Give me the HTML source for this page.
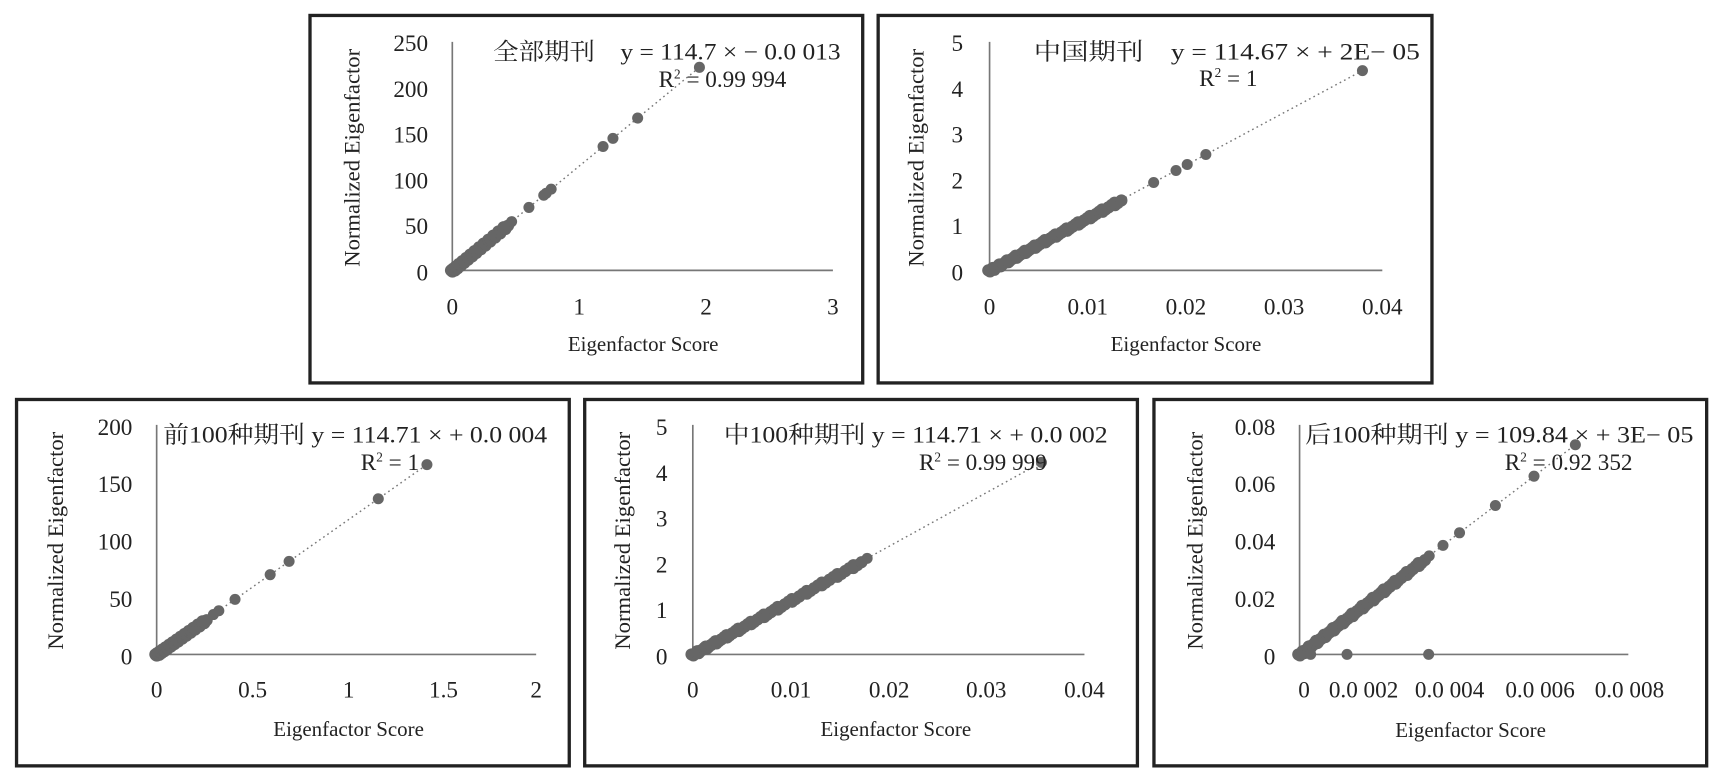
<!DOCTYPE html>
<html><head><meta charset="utf-8"><style>
html,body{margin:0;padding:0;background:#fff;}
svg{display:block;}
text{font-family:"Liberation Serif","Noto Serif CJK SC","Noto Sans CJK SC",serif;fill:#222;}
</style></head><body>
<svg id="s" width="1721" height="778" viewBox="0 0 1560 705" preserveAspectRatio="none" xmlns="http://www.w3.org/2000/svg">
<rect width="1560" height="705" fill="#fff"/>
<g fill="none" stroke="#222" stroke-width="3">
<rect x="281" y="14" width="501" height="333"/>
<rect x="796" y="14" width="502" height="333"/>
<rect x="15" y="362" width="501" height="332"/>
<rect x="530" y="362" width="501" height="332"/>
<rect x="1046" y="362" width="501" height="332"/>
</g>
<g stroke="#777" stroke-width="1.5">
<line x1="410" y1="38" x2="410" y2="245"/><line x1="410" y1="245" x2="755" y2="245"/>
<line x1="897" y1="38" x2="897" y2="245"/><line x1="897" y1="245" x2="1253" y2="245"/>
<line x1="142" y1="385" x2="142" y2="593"/><line x1="142" y1="593" x2="486" y2="593"/>
<line x1="628" y1="385" x2="628" y2="593"/><line x1="628" y1="593" x2="983" y2="593"/>
<line x1="1178" y1="385" x2="1178" y2="593"/><line x1="1178" y1="593" x2="1476" y2="593"/>
</g>
<g id="pts" fill="#666"></g>
<g font-size="21">
<!-- chart1 -->
<g text-anchor="end"><text x="388" y="46">250</text><text x="388" y="88">200</text><text x="388" y="129">150</text><text x="388" y="171">100</text><text x="388" y="212">50</text><text x="388" y="254">0</text></g>
<g text-anchor="middle"><text x="410" y="285">0</text><text x="525" y="285">1</text><text x="640" y="285">2</text><text x="755" y="285">3</text></g>
<text x="583" y="318" text-anchor="middle" font-size="19">Eigenfactor Score</text>
<text transform="translate(326,143) rotate(-90)" text-anchor="middle" font-size="20.5">Normalized Eigenfactor</text>
<text x="447" y="54" textLength="315" lengthAdjust="spacingAndGlyphs">全部期刊　y = 114.7 × − 0.0 013</text>
<text x="597" y="79">R<tspan font-size="12" dy="-8">2</tspan><tspan dy="8"> = 0.99 994</tspan></text>
<!-- chart2 -->
<g text-anchor="end"><text x="873" y="46">5</text><text x="873" y="88">4</text><text x="873" y="129">3</text><text x="873" y="171">2</text><text x="873" y="212">1</text><text x="873" y="254">0</text></g>
<g text-anchor="middle"><text x="897" y="285">0</text><text x="986" y="285">0.01</text><text x="1075" y="285">0.02</text><text x="1164" y="285">0.03</text><text x="1253" y="285">0.04</text></g>
<text x="1075" y="318" text-anchor="middle" font-size="19">Eigenfactor Score</text>
<text transform="translate(837,143) rotate(-90)" text-anchor="middle" font-size="20.5">Normalized Eigenfactor</text>
<text x="937" y="54" textLength="350" lengthAdjust="spacingAndGlyphs">中国期刊　y = 114.67 × + 2E− 05</text>
<text x="1087" y="78">R<tspan font-size="12" dy="-8">2</tspan><tspan dy="8"> = 1</tspan></text>
<!-- chart3 -->
<g text-anchor="end"><text x="120" y="394">200</text><text x="120" y="446">150</text><text x="120" y="498">100</text><text x="120" y="550">50</text><text x="120" y="602">0</text></g>
<g text-anchor="middle"><text x="142" y="632">0</text><text x="229" y="632">0.5</text><text x="316" y="632">1</text><text x="402" y="632">1.5</text><text x="486" y="632">2</text></g>
<text x="316" y="667" text-anchor="middle" font-size="19">Eigenfactor Score</text>
<text transform="translate(57,490) rotate(-90)" text-anchor="middle" font-size="20.5">Normalized Eigenfactor</text>
<text x="148" y="401" textLength="348" lengthAdjust="spacingAndGlyphs">前100种期刊 y = 114.71 × + 0.0 004</text>
<text x="327" y="426">R<tspan font-size="12" dy="-8">2</tspan><tspan dy="8"> = 1</tspan></text>
<!-- chart4 -->
<g text-anchor="end"><text x="605" y="394">5</text><text x="605" y="436">4</text><text x="605" y="477">3</text><text x="605" y="519">2</text><text x="605" y="560">1</text><text x="605" y="602">0</text></g>
<g text-anchor="middle"><text x="628" y="632">0</text><text x="717" y="632">0.01</text><text x="806" y="632">0.02</text><text x="894" y="632">0.03</text><text x="983" y="632">0.04</text></g>
<text x="812" y="667" text-anchor="middle" font-size="19">Eigenfactor Score</text>
<text transform="translate(571,490) rotate(-90)" text-anchor="middle" font-size="20.5">Normalized Eigenfactor</text>
<text x="656" y="401" textLength="348" lengthAdjust="spacingAndGlyphs">中100种期刊 y = 114.71 × + 0.0 002</text>
<text x="833" y="426">R<tspan font-size="12" dy="-8">2</tspan><tspan dy="8"> = 0.99 999</tspan></text>
<!-- chart5 -->
<g text-anchor="end"><text x="1156" y="394">0.08</text><text x="1156" y="446">0.06</text><text x="1156" y="498">0.04</text><text x="1156" y="550">0.02</text><text x="1156" y="602">0</text></g>
<g text-anchor="middle"><text x="1182" y="632">0</text><text x="1236" y="632">0.0 002</text><text x="1314" y="632">0.0 004</text><text x="1396" y="632">0.0 006</text><text x="1477" y="632">0.0 008</text></g>
<text x="1333" y="668" text-anchor="middle" font-size="19">Eigenfactor Score</text>
<text transform="translate(1090,490) rotate(-90)" text-anchor="middle" font-size="20.5">Normalized Eigenfactor</text>
<text x="1183" y="401" textLength="352" lengthAdjust="spacingAndGlyphs">后100种期刊 y = 109.84 × + 3E− 05</text>
<text x="1364" y="426">R<tspan font-size="12" dy="-8">2</tspan><tspan dy="8"> = 0.92 352</tspan></text>
</g>
<script>
(function(){
var g=document.getElementById('pts'),NS='http://www.w3.org/2000/svg';
function dot(x,y,r){var c=document.createElementNS(NS,'circle');c.setAttribute('cx',x);c.setAttribute('cy',y);c.setAttribute('r',r||5);g.appendChild(c);}
function line(x1,y1,x2,y2){var l=document.createElementNS(NS,'line');l.setAttribute('x1',x1);l.setAttribute('y1',y1);l.setAttribute('x2',x2);l.setAttribute('y2',y2);l.setAttribute('stroke','#777');l.setAttribute('stroke-width','1.3');l.setAttribute('stroke-dasharray','1.5 3');g.appendChild(l);}
function chart(ox,oy,ex,ey,dense,extra){
 line(ox,oy,ex,ey);
 for(var i=0;i<=80;i++){var t=dense*Math.pow(i/80,1.3);dot(ox+(ex-ox)*t+(i%3-1)*1.2,oy+(ey-oy)*t+(i%2)*1.2,5.5);}
 extra.forEach(function(t){dot(ox+(ex-ox)*t,oy+(ey-oy)*t);});
 dot(ex,ey);
}
chart(410,245,634,61,0.22,[0.24,0.31,0.37,0.38,0.4,0.61,0.65,0.75]);
chart(897,245,1235,64,0.35,[0.44,0.5,0.53,0.58]);
chart(142,593,387,421,0.18,[0.21,0.23,0.29,0.42,0.49,0.82]);
chart(628,593,944,419,0.48,[0.5]);
chart(1178,593,1428,403,0.45,[0.47,0.52,0.58,0.71,0.85]);
dot(1221,593);dot(1295,593);dot(1188,593);
})();
</script>
</svg>
</body></html>
